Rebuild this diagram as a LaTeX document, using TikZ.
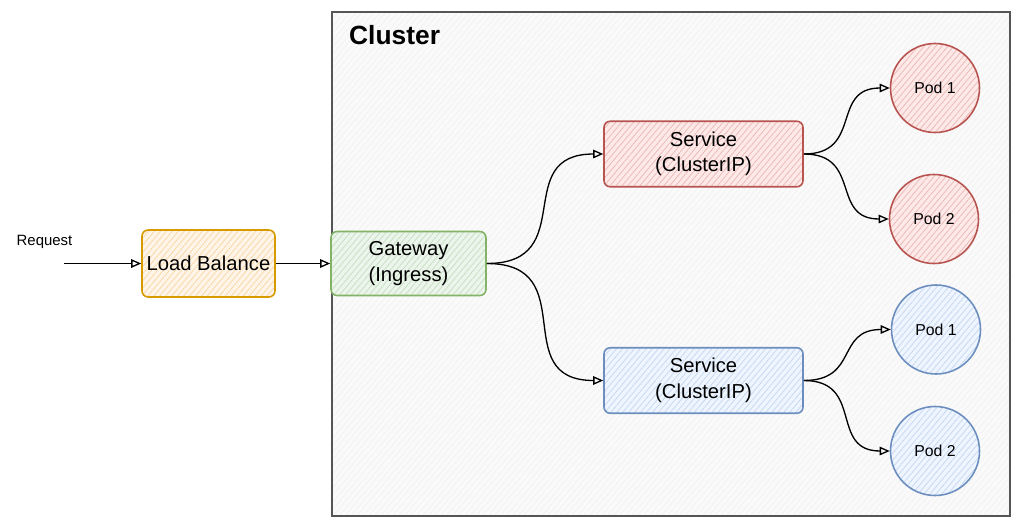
\documentclass[tikz,border=0pt]{standalone}
\usepackage{fontspec}
\setmainfont{Liberation Sans}
\usepackage{tikz}
\usetikzlibrary{arrows.meta, patterns.meta, positioning}
\definecolor{lbline}{HTML}{D79B00}
\definecolor{lbfill}{HTML}{FFE6CC}
\definecolor{gwline}{HTML}{82B366}
\definecolor{gwfill}{HTML}{D5E8D4}
\definecolor{redline}{HTML}{B85450}
\definecolor{redfill}{HTML}{F8CECC}
\definecolor{blueline}{HTML}{6C8EBF}
\definecolor{bluefill}{HTML}{DAE8FC}
\definecolor{clline}{HTML}{555555}
\definecolor{clfill}{HTML}{F5F5F5}
\tikzset{
  hatch/.style 2 args={draw=#1, preaction={fill=#2!45},
    pattern={Lines[angle=50, distance=2.6pt, line width=0.4pt]},
    pattern color=#2!80!#1},
  box/.style={rectangle, rounded corners=3.5pt, line width=0.9pt,
    align=center, inner sep=0pt,
    font=\fontsize{11.5}{14.5}\selectfont},
  lbbox/.style={box, hatch={lbline}{lbfill},
    minimum width=2.66cm, minimum height=1.34cm},
  gwbox/.style={box, hatch={gwline}{gwfill},
    minimum width=3.1cm, minimum height=1.28cm},
  svcbox/.style={box, minimum width=3.98cm, minimum height=1.31cm},
  pod/.style={circle, line width=0.9pt, minimum size=1.78cm,
    inner sep=0pt, font=\fontsize{9}{11}\selectfont},
  arrow/.style={-{Triangle[open, length=2mm, width=1.7mm]},
    line width=0.75pt, color=black}
}

\begin{document}
\begin{tikzpicture}
  \useasboundingbox (0, 0) rectangle (20.48, 10.58);

  % Cluster frame
  \node[rectangle, line width=0.8pt, draw=clline,
    preaction={fill=clfill!50},
    pattern={Lines[angle=50, distance=2.6pt, line width=0.4pt]},
    pattern color=black!5,
    minimum width=13.56cm, minimum height=10.08cm] (cluster) at (13.42, 5.30) {};
  \node[anchor=west, font=\fontsize{15}{18}\selectfont\bfseries] (cltitle) at (6.86, 9.88) {Cluster};

  % Request and load balancer
  \node[font=\fontsize{8.5}{10}\selectfont] (request) at (0.89, 5.74) {Request};
  \coordinate (reqstart) at (1.28, 5.31);
  \node[lbbox] (lb) at (4.17, 5.31) {Load Balance};
  \node[gwbox] (gw) at (8.17, 5.31) {Gateway\\(Ingress)};

  % Services
  \node[svcbox, hatch={redline}{redfill}] (svcr) at (14.07, 7.50) {Service\\(ClusterIP)};
  \node[svcbox, hatch={blueline}{bluefill}] (svcb) at (14.07, 2.97) {Service\\(ClusterIP)};

  % Pods
  \node[pod, hatch={redline}{redfill}] (podra) at (18.70, 8.82) {Pod 1};
  \node[pod, hatch={redline}{redfill}] (podrb) at (18.68, 6.20) {Pod 2};
  \node[pod, hatch={blueline}{bluefill}] (podba) at (18.72, 3.99) {Pod 1};
  \node[pod, hatch={blueline}{bluefill}] (podbb) at (18.70, 1.56) {Pod 2};

  % Connections
  \draw[arrow] (reqstart) -- (lb.west);
  \draw[arrow] (lb.east) -- (gw.west);
  \draw[arrow] (gw.east) to[out=0, in=180, looseness=1.5] (svcr.west);
  \draw[arrow] (gw.east) to[out=0, in=180, looseness=1.5] (svcb.west);
  \foreach \s/\p in {svcr/podra, svcr/podrb, svcb/podba, svcb/podbb} {
    \draw[arrow] (\s.east) to[out=0, in=180, looseness=1.4] (\p.west);
  }
\end{tikzpicture}
\end{document}
